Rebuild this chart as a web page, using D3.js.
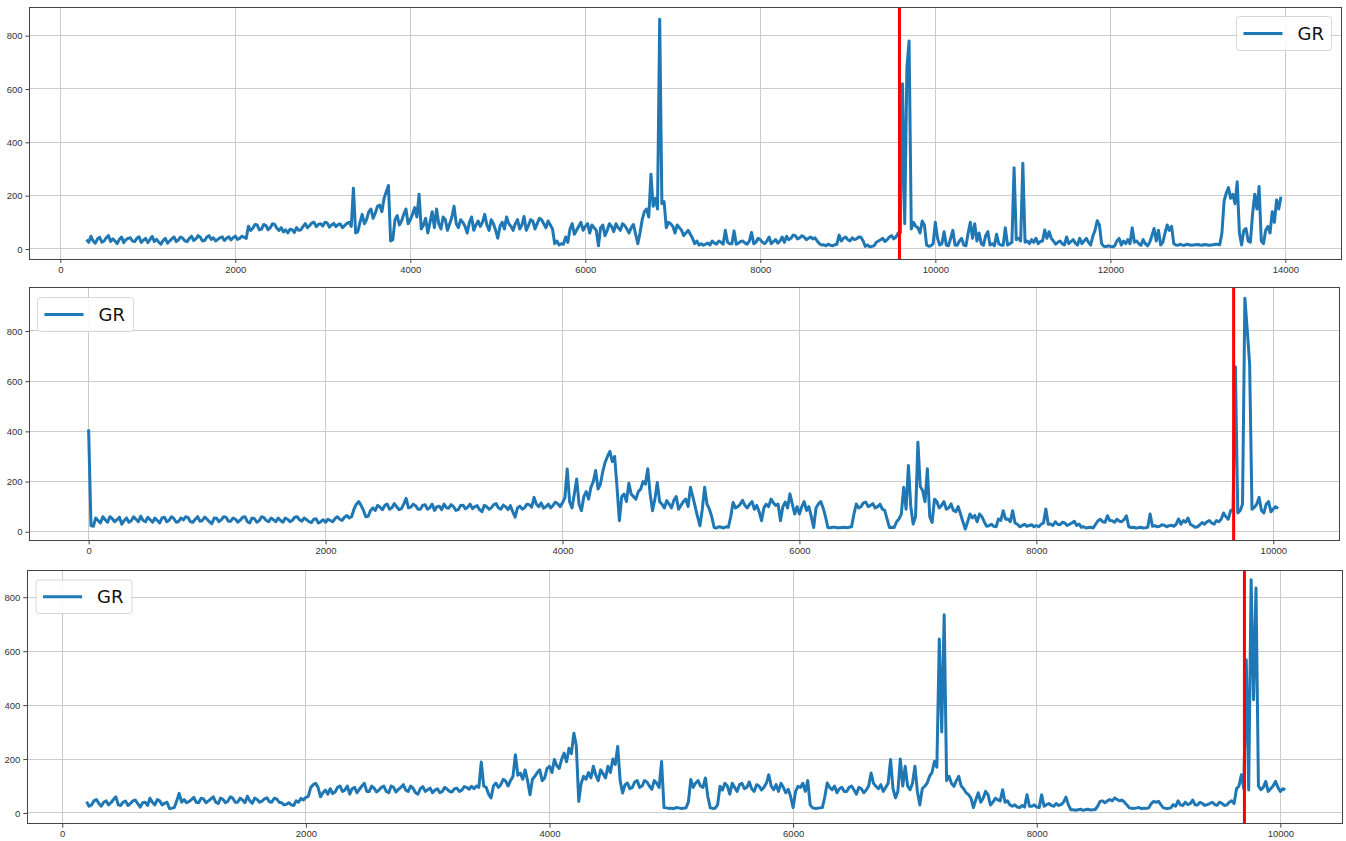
<!DOCTYPE html>
<html lang="en">
<head>
    <meta charset="UTF-8">
    <title>GR logs</title>
    <script src="https://d3js.org/d3.v7.min.js"></script>
    <style>
        * { margin: 0; padding: 0; box-sizing: border-box; }
        body { background: #ffffff; overflow: hidden; }
        svg { display: block; font-family: "DejaVu Sans", sans-serif; }
        .grid line { stroke: #cccccc; stroke-width: 1px; shape-rendering: crispEdges; }
        .frame { fill: none; stroke: #444444; stroke-width: 1px; shape-rendering: crispEdges; }
        .tick-label { font-size: 9.5px; fill: #333333; }
        .gr-line { fill: none; stroke: #1f77b4; stroke-width: 3px; stroke-linejoin: round; }
        .marker { stroke: #ff0000; stroke-width: 3px; }
        .legend rect { fill: #ffffff; fill-opacity: 0.85; stroke: #d6d6d6; }
        .legend text { font-size: 18px; fill: #111111; }
    </style>
</head>
<body>
<svg id="chart" width="1346" height="841"></svg>
<script>
    // --- data ---
    // well 1: GR read every 50 from depth 300, plus the reading half a step further on
    const well1Start = 300, well1Step = 50;
    const well1GR = [
        35, 48, 22, 44, 30, 50, 38, 20, 45, 35,        // 300
        42, 28, 46, 33, 24, 47, 36, 18, 40, 30,        // 800
        45, 34, 40, 28, 48, 38, 44, 32, 50, 42,        // 1300
        36, 46, 40, 34, 48, 40, 44, 85, 78, 90,        // 1800
        75, 88, 80, 92, 70, 64, 60, 72, 80, 72,        // 2300
        95, 88, 100, 92, 86, 98, 90, 84, 94, 88,       // 2800
        100, 228, 65, 130, 110, 150, 135, 165, 190, 238, // 3300
        35, 125, 105, 150, 110, 155, 205, 90, 60, 140, // 3800
        150, 75, 110, 95, 160, 80, 100, 60, 120, 90,   // 4300
        85, 130, 70, 95, 40, 100, 120, 85, 95, 75,     // 4800
        122, 88, 105, 95, 110, 80, 90, 20, 15, 18,     // 5300
        25, 95, 70, 100, 85, 60, 80, 12, 90, 70,       // 5800
        85, 95, 70, 88, 60, 92, 20, 110, 150, 280,     // 6300
        190, 862, 178, 100, 85, 90, 70, 60, 55, 20,    // 6800
        15, 14, 22, 30, 18, 25, 70, 20, 68, 22,        // 7300
        30, 18, 62, 25, 35, 20, 45, 28, 22, 45,        // 7800
        48, 40, 50, 42, 45, 40, 38, 30, 15, 12,        // 8300
        14, 16, 52, 40, 35, 42, 38, 44, 10, 8,         // 8800
        12, 30, 40, 35, 50, 45, 60, 95, 780, 100,      // 9300
        80, 105, 15, 12, 100, 15, 65, 12, 70, 14,      // 9800
        40, 12, 100, 95, 60, 14, 65, 20, 55, 15,       // 10300
        80, 20, 305, 40, 322, 30, 35, 40, 28, 71,      // 10800
        65, 30, 25, 20, 45, 28, 22, 40, 30, 25,        // 11300
        48, 106, 20, 9, 10, 12, 40, 30, 35, 80,        // 11800
        30, 14, 20, 25, 77, 70, 25, 90, 85, 15,        // 12300
        18, 14, 16, 15, 17, 14, 16, 15, 18, 16,        // 12800
        180, 230, 205, 252, 15, 77, 25, 205, 234, 20,  // 13300
        84, 140, 184, 196                              // 13800
    ];
    const well1Mid = [
        25, 30, 38, 26, 42, 28, 30, 36, 24, 40,        // 325
        30, 40, 25, 40, 35, 28, 26, 32, 22, 38,        // 825
        28, 45, 30, 40, 32, 50, 30, 45, 36, 30,        // 1325
        42, 32, 46, 42, 36, 48, 40, 70, 92, 72,        // 1825
        92, 72, 95, 78, 80, 72, 74, 62, 70, 85,        // 2325
        80, 98, 84, 95, 100, 82, 96, 92, 80, 96,       // 2825
        85, 60, 100, 95, 140, 115, 160, 140, 215, 30,  // 3325
        110, 90, 130, 95, 130, 120, 75, 115, 100, 80,  // 3825
        95, 120, 70, 120, 95, 110, 85, 100, 70, 105,   // 4325
        100, 90, 110, 70, 85, 75, 95, 70, 110, 90,     // 4825
        70, 110, 75, 115, 95, 105, 75, 30, 20, 45,     // 5325
        75, 55, 85, 70, 95, 90, 70, 80, 50, 95,        // 5825
        65, 80, 95, 75, 80, 55, 60, 140, 120, 160,     // 6325
        150, 170, 80, 95, 60, 80, 50, 70, 40, 30,      // 6825
        20, 18, 15, 22, 30, 18, 25, 20, 18, 28,        // 7325
        22, 30, 20, 40, 25, 30, 20, 35, 30, 25,        // 7825
        35, 52, 38, 50, 35, 45, 42, 20, 16, 18,        // 8325
        12, 18, 30, 45, 30, 35, 45, 30, 15, 10,        // 8825
        25, 35, 28, 45, 38, 60, 620, 680, 75, 85,      // 9325
        60, 90, 10, 20, 40, 20, 15, 40, 15, 30,        // 9825
        15, 60, 40, 30, 20, 50, 15, 12, 20, 14,        // 10325
        15, 25, 35, 30, 25, 20, 25, 20, 30, 40,        // 10825
        40, 18, 30, 15, 20, 35, 15, 20, 40, 15,        // 11325
        70, 90, 10, 12, 8, 30, 15, 20, 20, 25,         // 11825
        20, 35, 12, 50, 30, 15, 60, 70, 20, 14,        // 12325
        14, 18, 14, 16, 15, 17, 14, 16, 18, 60,        // 12825
        210, 190, 170, 60, 70, 30, 130, 150, 30, 70,   // 13325
        60, 100, 150                                   // 13825
    ];

    // well 2: GR read every 40 from depth 0
    const well2Start = 0, well2Step = 40;
    const well2GR = [
        408, 22, 45, 60, 38, 52, 48, 30, 55, 44,       // 0
        50, 62, 40, 48, 55, 35, 58, 46, 52, 41,        // 400
        47, 56, 38, 60, 45, 50, 32, 54, 48, 58,        // 800
        42, 50, 46, 60, 35, 52, 44, 56, 40, 48,        // 1200
        55, 38, 50, 46, 60, 42, 48, 36, 52, 40,        // 1600
        38, 45, 52, 50, 58, 55, 90, 120, 85, 62,       // 2000
        95, 105, 88, 110, 96, 100, 92, 133, 98, 104,   // 2400
        90, 108, 96, 85, 102, 110, 94, 100, 88, 106,   // 2800
        98, 92, 104, 80, 100, 96, 112, 90, 100, 104,   // 3200
        58, 102, 96, 108, 137, 100, 94, 110, 105, 112, // 3600
        115, 250, 95, 210, 84, 160, 177, 244, 190, 277, // 4000
        320, 300, 44, 150, 193, 140, 160, 200, 251, 84, // 4400
        196, 110, 124, 95, 140, 105, 130, 177, 100, 24, // 4800
        177, 90, 17, 20, 15, 18, 117, 100, 125, 95,    // 5200
        120, 105, 44, 110, 130, 105, 44, 118, 151, 71, // 5600
        71, 120, 100, 17, 111, 95, 17, 18, 16, 17,     // 6000
        16, 20, 111, 100, 118, 105, 95, 110, 85, 17,   // 6400
        17, 51, 177, 264, 31, 357, 164, 251, 37, 120,  // 6800
        105, 90, 111, 80, 71, 11, 71, 65, 71, 40,      // 7200
        24, 22, 51, 84, 51, 84, 30, 24, 22, 28,        // 7600
        25, 30, 91, 31, 40, 28, 35, 30, 42, 31,        // 8000
        20, 17, 15, 44, 40, 64, 44, 50, 40, 64,        // 8400
        17, 15, 18, 16, 71, 24, 22, 26, 24, 22,        // 8800
        51, 45, 55, 24, 20, 37, 40, 35, 45, 50,        // 9200
        60, 84, 657, 84, 930, 670, 97, 137, 75, 120,   // 9600
        91, 92                                         // 10000
    ];
    const well2Mid = [
        25, 55, 35, 48, 60, 40, 58, 45, 38, 60,        // 20
        40, 45, 58, 38, 45, 55, 40, 60, 38, 55,        // 420
        60, 40, 50, 42, 58, 40, 55, 40, 60, 42,        // 820
        55, 38, 58, 40, 55, 38, 60, 45, 55, 40,        // 1220
        45, 55, 40, 58, 48, 55, 40, 50, 35, 48,        // 1620
        50, 40, 60, 45, 65, 60, 110, 105, 60, 85,      // 2020
        85, 98, 105, 90, 112, 88, 110, 95, 110, 90,    // 2420
        105, 90, 110, 100, 88, 96, 108, 85, 105, 92,   // 2820
        110, 100, 88, 105, 90, 108, 95, 106, 88, 80,   // 3220
        95, 90, 110, 98, 110, 115, 100, 95, 118, 100,  // 3620
        135, 120, 150, 110, 140, 130, 200, 170, 240, 300, // 4020
        280, 180, 140, 120, 150, 130, 170, 190, 150, 130, // 4420
        120, 95, 110, 125, 90, 120, 100, 140, 60, 90,  // 4820
        110, 60, 15, 18, 20, 60, 95, 110, 105, 110,    // 5220
        90, 80, 95, 100, 115, 110, 100, 95, 110, 100,  // 5620
        100, 85, 60, 95, 120, 60, 16, 18, 16, 18,      // 6020
        18, 70, 95, 115, 100, 112, 100, 90, 50, 18,    // 6420
        40, 70, 90, 100, 60, 180, 120, 60, 130, 95,    // 6820
        120, 95, 85, 100, 40, 40, 55, 40, 60, 22,      // 7220
        30, 20, 45, 50, 40, 35, 20, 30, 25, 20,        // 7620
        20, 35, 30, 25, 30, 38, 25, 35, 25, 18,        // 8020
        15, 18, 30, 50, 38, 45, 38, 42, 48, 20,        // 8420
        18, 16, 15, 18, 22, 20, 28, 20, 26, 30,        // 8820
        30, 38, 30, 18, 28, 30, 45, 30, 40, 75,        // 9220
        50, 90, 75, 110, 804, 90, 110, 85, 110, 80,    // 9620
        100                                            // 10020
    ];

    // well 3: GR read every 40 from depth 200
    const well3Start = 200, well3Step = 40;
    const well3GR = [
        42, 30, 50, 25, 45, 38, 60, 28, 44, 35,        // 200
        48, 22, 40, 55, 30, 45, 36, 17, 20, 73,        // 600
        50, 42, 58, 38, 52, 45, 60, 35, 50, 44,        // 1000
        55, 40, 48, 62, 36, 50, 44, 56, 40, 52,        // 1400
        38, 32, 30, 45, 54, 58, 95, 110, 60, 85,       // 1800
        90, 78, 100, 85, 70, 95, 88, 110, 80, 92,      // 2200
        85, 100, 75, 95, 88, 105, 80, 92, 70, 98,      // 2600
        86, 75, 90, 80, 88, 78, 92, 85, 95, 99,        // 3000
        100, 189, 95, 56, 111, 105, 118, 120, 216, 148, // 3400
        160, 68, 136, 160, 130, 173, 198, 165, 222, 240, // 3800
        296, 43, 136, 150, 173, 120, 145, 173, 200, 247, // 4200
        74, 111, 95, 120, 100, 115, 88, 110, 191, 19,  // 4600
        18, 20, 17, 19, 124, 111, 100, 130, 19, 18,    // 5000
        99, 110, 70, 95, 105, 90, 115, 80, 100, 95,    // 5400
        142, 86, 80, 95, 88, 20, 99, 110, 120, 19,     // 5800
        18, 20, 111, 86, 75, 95, 80, 100, 70, 90,      // 6200
        85, 148, 99, 105, 95, 198, 56, 200, 173, 86,   // 6600
        173, 30, 99, 136, 191, 645, 735, 136, 99, 136, // 7000
        90, 68, 20, 75, 55, 68, 40, 49, 86, 45,        // 7400
        25, 22, 28, 68, 25, 22, 68, 31, 28, 35,        // 7800
        31, 59, 12, 10, 14, 12, 11, 13, 43, 38,        // 8200
        50, 56, 45, 40, 19, 17, 20, 18, 19, 43,        // 8600
        43, 19, 17, 31, 45, 28, 31, 48, 30, 35,        // 9000
        31, 40, 28, 36, 30, 45, 90, 142, 568, 865,     // 9400
        834, 86, 117, 90, 117, 80, 86                  // 9800
    ];
    const well3Mid = [
        25, 45, 35, 40, 30, 50, 30, 40, 28, 45,        // 220
        35, 38, 28, 40, 50, 30, 40, 18, 45, 40,        // 620
        38, 50, 40, 55, 38, 52, 40, 55, 38, 60,        // 1020
        40, 55, 38, 45, 55, 40, 52, 42, 55, 40,        // 1420
        30, 38, 28, 40, 48, 62, 105, 95, 75, 70,       // 1820
        72, 95, 80, 100, 90, 75, 100, 80, 100, 78,     // 2220
        95, 80, 100, 78, 95, 85, 100, 75, 90, 80,      // 2620
        92, 85, 75, 95, 80, 90, 80, 98, 88, 90,        // 3020
        95, 100, 70, 100, 95, 125, 100, 135, 140, 125, // 3420
        120, 125, 150, 120, 165, 150, 175, 200, 190, 220, // 3820
        250, 110, 125, 130, 140, 160, 130, 150, 180, 120, // 4220
        105, 90, 115, 95, 120, 100, 120, 95, 20, 17,   // 4620
        16, 19, 18, 40, 95, 120, 95, 60, 17, 30,       // 5020
        85, 100, 110, 80, 110, 95, 90, 105, 85, 110,   // 5420
        100, 105, 110, 75, 60, 80, 95, 80, 30, 17,     // 5820
        19, 60, 95, 100, 90, 80, 95, 85, 95, 75,       // 6220
        100, 110, 90, 80, 110, 90, 80, 100, 100, 110,  // 6620
        80, 90, 110, 150, 170, 300, 120, 110, 120, 100, // 7020
        75, 55, 50, 40, 80, 30, 55, 45, 40, 30,        // 7420
        30, 20, 22, 25, 30, 20, 25, 35, 25, 28,        // 7820
        40, 30, 12, 12, 10, 14, 12, 25, 45, 45,        // 8220
        45, 50, 48, 30, 18, 19, 16, 17, 35, 40,        // 8620
        30, 17, 19, 25, 30, 40, 35, 30, 40, 28,        // 9020
        35, 32, 40, 28, 40, 35, 100, 90, 85, 420,      // 9420
        100, 95, 80, 100, 95, 90                       // 9820
    ];

    // red marker depths
    const markers = [9590, 9665, 9705];

    // tick values
    const xTicksLong = [0, 2000, 4000, 6000, 8000, 10000, 12000, 14000];
    const xTicksShort = [0, 2000, 4000, 6000, 8000, 10000];
    const yTicks = [0, 200, 400, 600, 800];
    const seriesName = "GR";

    // --- layout per panel ---
    const panels = [
        { gr: well1GR, mid: well1Mid, start: well1Start, step: well1Step, marker: markers[0], xTicks: xTicksLong,
          box: { left: 29.5, right: 1341, top: 7.5, bottom: 259 },
          xDomain: [-352, 14636], yDomain: [-37.5, 905.6],
          legend: { x: 1236.5, y: 16.5, w: 95, h: 34 } },
        { gr: well2GR, mid: well2Mid, start: well2Start, step: well2Step, marker: markers[1], xTicks: xTicksShort,
          box: { left: 29.5, right: 1339.3, top: 287.3, bottom: 540.3 },
          xDomain: [-499, 10557], yDomain: [-34, 974],
          legend: { x: 37.5, y: 297.5, w: 96, h: 34 } },
        { gr: well3GR, mid: well3Mid, start: well3Start, step: well3Step, marker: markers[2], xTicks: xTicksShort,
          box: { left: 27.3, right: 1342, top: 570, bottom: 823.7 },
          xDomain: [-287, 10506], yDomain: [-39.7, 901],
          legend: { x: 36, y: 580, w: 96, h: 33.5 } }
    ];

    const svg = d3.select("#chart");

    panels.forEach((p, k) => {
        const b = p.box;
        const x = d3.scaleLinear().domain(p.xDomain).range([b.left, b.right]);
        const y = d3.scaleLinear().domain(p.yDomain).range([b.bottom, b.top]);

        // interleave the readings with the half-step readings
        const points = [];
        p.gr.forEach((v, i) => {
            points.push({ depth: p.start + i * p.step, gr: v });
            if (i < p.mid.length) points.push({ depth: p.start + (i + 0.5) * p.step, gr: p.mid[i] });
        });

        const g = svg.append("g").attr("class", "panel");

        svg.append("clipPath").attr("id", "clip" + k)
            .append("rect")
            .attr("x", b.left).attr("y", b.top)
            .attr("width", b.right - b.left).attr("height", b.bottom - b.top);

        // grid
        const grid = g.append("g").attr("class", "grid");
        grid.selectAll(".gx").data(p.xTicks).enter().append("line")
            .attr("x1", d => x(d)).attr("x2", d => x(d))
            .attr("y1", b.top).attr("y2", b.bottom);
        grid.selectAll(".gy").data(yTicks).enter().append("line")
            .attr("x1", b.left).attr("x2", b.right)
            .attr("y1", d => y(d)).attr("y2", d => y(d));

        // GR curve
        const line = d3.line().x(d => x(d.depth)).y(d => y(d.gr));
        g.append("path")
            .datum(points)
            .attr("class", "gr-line")
            .attr("clip-path", "url(#clip" + k + ")")
            .attr("d", line);

        // red marker
        g.append("line")
            .attr("class", "marker")
            .attr("x1", x(p.marker)).attr("x2", x(p.marker))
            .attr("y1", b.top).attr("y2", b.bottom);

        // axes
        const xAxis = d3.axisBottom(x).tickValues(p.xTicks).tickSize(4).tickPadding(3).tickFormat(d3.format("d"));
        const yAxis = d3.axisLeft(y).tickValues(yTicks).tickSize(4).tickPadding(3).tickFormat(d3.format("d"));

        const ax = g.append("g").attr("transform", `translate(0,${b.bottom})`).call(xAxis);
        const ay = g.append("g").attr("transform", `translate(${b.left},0)`).call(yAxis);
        [ax, ay].forEach(a => {
            a.select(".domain").remove();
            a.selectAll(".tick line").attr("stroke", "#444444");
            a.selectAll(".tick text").attr("class", "tick-label").attr("font-family", null).attr("font-size", null);
        });

        g.append("rect").attr("class", "frame")
            .attr("x", b.left).attr("y", b.top)
            .attr("width", b.right - b.left).attr("height", b.bottom - b.top);

        // legend
        const lg = g.append("g").attr("class", "legend")
            .attr("transform", `translate(${p.legend.x},${p.legend.y})`);
        lg.append("rect").attr("width", p.legend.w).attr("height", p.legend.h).attr("rx", 3);
        lg.append("line")
            .attr("x1", 7).attr("x2", 46)
            .attr("y1", p.legend.h / 2).attr("y2", p.legend.h / 2)
            .attr("stroke", "#1f77b4").attr("stroke-width", 3);
        lg.append("text")
            .attr("x", 61).attr("y", p.legend.h / 2 + 6.5)
            .text(seriesName);
    });
</script>
</body>
</html>
